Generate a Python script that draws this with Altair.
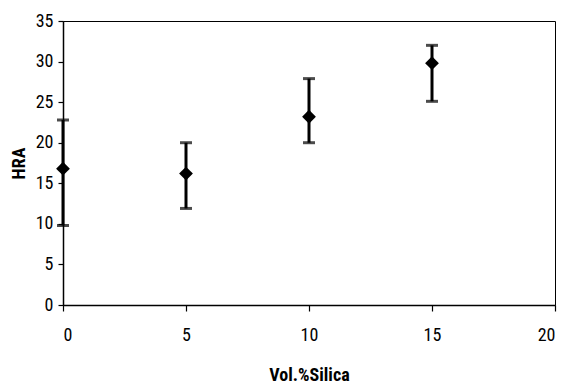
import altair as alt
import pandas as pd

silica = [0, 5, 10, 15]
hra = [16.8, 16.2, 23.2, 29.8]
hra_low = [9.8, 11.9, 20.0, 25.1]
hra_high = [22.8, 20.0, 27.9, 32.0]

df = pd.DataFrame({"silica": silica, "hra": hra, "lo": hra_low, "hi": hra_high})

FONT = "Roboto Condensed, Liberation Sans, Arial"

x = alt.X("silica:Q", scale=alt.Scale(domain=[0, 20], nice=False),
          axis=alt.Axis(title="Vol.%Silica", values=[0, 5, 10, 15, 20], grid=False,
                        tickSize=6, labelPadding=15, titlePadding=22))
y_axis = alt.Axis(title="HRA", values=[0, 5, 10, 15, 20, 25, 30, 35], grid=False,
                  tickSize=5, labelPadding=5, titleX=-44, titleY=142,
                  titleAlign="center", titleBaseline="middle", titleAngle=270)
y_scale = alt.Scale(domain=[0, 35], nice=False)

base = alt.Chart(df)
rules = base.mark_rule(color="black", strokeWidth=3).encode(
    x=x, y=alt.Y("lo:Q", scale=y_scale, axis=y_axis), y2="hi:Q")
cap_lo = base.mark_tick(color="black", thickness=3, size=12, orient="horizontal").encode(
    x="silica:Q", y="lo:Q")
cap_hi = base.mark_tick(color="black", thickness=3, size=12, orient="horizontal").encode(
    x="silica:Q", y="hi:Q")
pts = base.mark_point(shape="diamond", filled=True, color="black", size=190, opacity=1).encode(
    x="silica:Q", y="hra:Q")

chart = alt.layer(rules, cap_lo, cap_hi, pts).properties(
    width=492, height=284,
    autosize=alt.AutoSizeParams(type="none"),
    padding={"left": 55, "top": 13, "right": 2, "bottom": 78},
).configure_view(stroke="black", strokeWidth=1).configure_axis(
    domainColor="black", domainWidth=1.5, tickColor="black", tickWidth=1.2,
    labelFont=FONT, labelFontSize=18, labelColor="black",
    titleFont=FONT, titleFontSize=18, titleFontWeight="bold", titleColor="black",
)

chart.save("out.html", embed_options={"renderer": "svg", "actions": False})
